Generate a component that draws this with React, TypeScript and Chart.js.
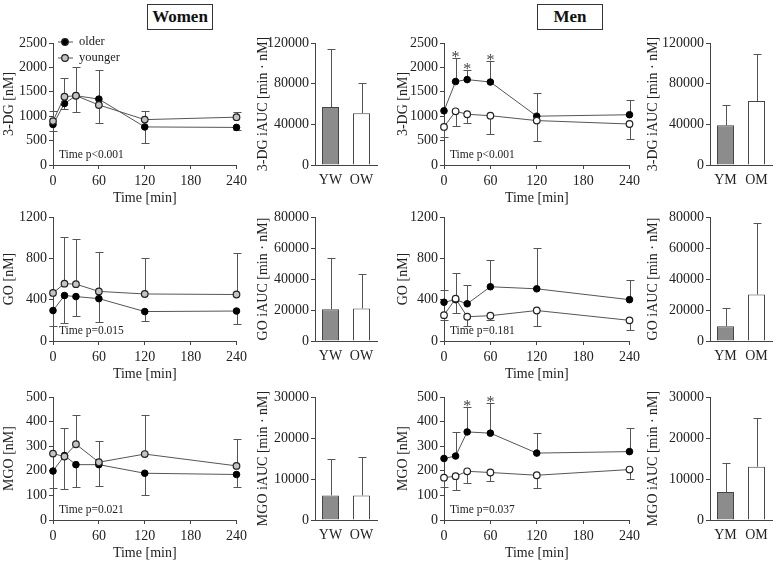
import React, { useEffect, useRef } from 'react';
import { Chart, registerables } from 'chart.js';
Chart.register(...registerables);

const FONT = '"Liberation Serif", "DejaVu Serif", serif';
const INK = '#222';
const AXIS = '#444';
const ERR = '#555';
const LINE = '#555';

// ---------- data ----------
const times = [0, 15, 30, 60, 120, 240];
const timeTicks = [0, 60, 120, 180, 240];

// Women
const wDG_older = [830, 1260, 1420, 1350, 780, 770];
const wDG_olderErr = [-140, -110, -340, 590, -330, -50];
const wDG_younger = [900, 1400, 1420, 1230, 930, 980];
const wDG_youngerErr = [200, 390, 590, -370, 170, 100];

const wGO_older = [295, 440, 430, 410, 285, 290];
const wGO_olderErr = [-150, -265, -190, -230, -95, -130];
const wGO_younger = [465, 555, 550, 480, 455, 450];
const wGO_youngerErr = [0, 455, 435, 385, 350, 405];

const wMGO_older = [199, 262, 225, 225, 190, 185];
const wMGO_olderErr = [-70, -137, -90, -85, -90, -50];
const wMGO_younger = [270, 258, 308, 235, 268, 220];
const wMGO_youngerErr = [0, 117, 117, 85, 160, 110];

// Men
const mDG_older = [1110, 1710, 1750, 1700, 1000, 1030];
const mDG_olderErr = [0, 480, 190, 440, 470, 310];
const mDG_younger = [780, 1100, 1040, 1010, 910, 840];
const mDG_youngerErr = [-210, -310, -170, -370, -410, -300];
const mDG_sig = [false, true, true, true, false, false];

const mGO_older = [375, 400, 360, 525, 505, 400];
const mGO_olderErr = [120, 255, 180, 255, 395, 195];
const mGO_younger = [250, 410, 235, 245, 295, 200];
const mGO_youngerErr = [-50, -140, -90, -40, -150, -95];

const mMGO_older = [250, 260, 358, 353, 272, 278];
const mMGO_olderErr = [0, 98, 102, 122, 80, 97];
const mMGO_younger = [172, 178, 198, 193, 182, 205];
const mMGO_youngerErr = [-37, -58, -48, -35, -52, -37];
const mMGO_sig = [false, false, true, true, false, false];

// iAUC bars
const womenLabels = ['YW', 'OW'];
const menLabels = ['YM', 'OM'];
const wDG_auc = [57000, 51000];
const wDG_aucErr = [57000, 30000];
const mDG_auc = [39000, 63000];
const mDG_aucErr = [20000, 46000];
const wGO_auc = [20500, 21000];
const wGO_aucErr = [33000, 22000];
const mGO_auc = [9500, 30000];
const mGO_aucErr = [12000, 46000];
const wMGO_auc = [6000, 6000];
const wMGO_aucErr = [9000, 9300];
const mMGO_auc = [6800, 13000];
const mMGO_aucErr = [7000, 12000];

// ---------- layout ----------
const ROWS = [
  { t: 43, b: 165 },
  { t: 217, b: 341 },
  { t: 397, b: 520 },
];
const PADT = 14;
const XH = 46;

const tickFont = { family: FONT, size: 14 };
const titleFont = { family: FONT, size: 14 };

const errorBarPlugin = {
  id: 'errbars',
  beforeDatasetsDraw(chart: any) {
    const ctx = chart.ctx;
    const ys = chart.scales.y;
    chart.data.datasets.forEach((ds: any, di: number) => {
      const errs = ds.errors;
      if (!errs) return;
      const meta = chart.getDatasetMeta(di);
      meta.data.forEach((el: any, i: number) => {
        const e = errs[i];
        if (!e) return;
        const raw = ds.data[i];
        const v = typeof raw === 'number' ? raw : raw.y;
        const x = Math.round(el.x) + 0.5;
        const y0 = ys.getPixelForValue(v);
        const y1 = Math.round(ys.getPixelForValue(v + e)) + 0.5;
        ctx.save();
        ctx.strokeStyle = ERR;
        ctx.lineWidth = 1;
        ctx.beginPath();
        ctx.moveTo(x, y0);
        ctx.lineTo(x, y1);
        ctx.moveTo(x - 4, y1);
        ctx.lineTo(x + 4, y1);
        ctx.stroke();
        ctx.restore();
      });
    });
  },
};

const notesPlugin = {
  id: 'notes',
  afterDatasetsDraw(chart: any, _args: any, opts: any) {
    const ctx = chart.ctx;
    const area = chart.chartArea;
    ctx.save();
    if (opts.pText) {
      ctx.fillStyle = INK;
      ctx.font = `11.5px ${FONT}`;
      ctx.textAlign = 'left';
      ctx.textBaseline = 'middle';
      ctx.fillText(opts.pText, area.left + 6, area.bottom - 10);
    }
    if (opts.sig) {
      const ds = chart.data.datasets[1];
      const meta = chart.getDatasetMeta(1);
      ctx.fillStyle = '#444';
      ctx.font = `16px ${FONT}`;
      ctx.textAlign = 'center';
      ctx.textBaseline = 'alphabetic';
      opts.sig.forEach((s: boolean, i: number) => {
        if (!s) return;
        const v = ds.data[i].y + (ds.errors[i] > 0 ? ds.errors[i] : 0);
        const y = chart.scales.y.getPixelForValue(v);
        ctx.fillText('*', meta.data[i].x, y + 4);
      });
    }
    if (opts.legend) {
      const items = [
        { text: 'older', fill: '#000', dy: -1 },
        { text: 'younger', fill: opts.youngerFill, dy: 15 },
      ];
      items.forEach((it) => {
        const y = area.top + it.dy;
        ctx.strokeStyle = LINE;
        ctx.lineWidth = 1;
        ctx.beginPath();
        ctx.moveTo(area.left + 5, y);
        ctx.lineTo(area.left + 20, y);
        ctx.stroke();
        ctx.beginPath();
        ctx.arc(area.left + 12, y, 3.3, 0, Math.PI * 2);
        ctx.fillStyle = it.fill;
        ctx.fill();
        ctx.strokeStyle = '#222';
        ctx.lineWidth = 1.2;
        ctx.stroke();
        ctx.fillStyle = INK;
        ctx.font = `12.5px ${FONT}`;
        ctx.textAlign = 'left';
        ctx.textBaseline = 'middle';
        ctx.fillText(it.text, area.left + 26, y);
      });
    }
    ctx.restore();
  },
};

const plainTick = (v: any) => String(v);

function yAxis(max: number, step: number, title: string, width: number) {
  return {
    min: 0,
    max,
    ticks: { stepSize: step, font: tickFont, color: INK, padding: 2, callback: plainTick },
    grid: { drawOnChartArea: false, drawTicks: true, tickLength: 4, color: AXIS },
    border: { color: AXIS, width: 1 },
    title: { display: true, text: title, font: titleFont, color: INK, padding: { top: 1, bottom: 0 } },
    afterFit: (s: any) => {
      s.width = width;
    },
  };
}

type LineSpec = {
  kind: 'line';
  canvasLeft: number;
  l: number;
  r: number;
  row: number;
  yMax: number;
  yStep: number;
  yTitle: string;
  older: number[];
  olderErr: number[];
  younger: number[];
  youngerErr: number[];
  youngerFill: string;
  pText: string;
  sig?: boolean[];
  legend?: boolean;
};

type BarSpec = {
  kind: 'bar';
  canvasLeft: number;
  l: number;
  r: number;
  row: number;
  yMax: number;
  yStep: number;
  yTitle: string;
  labels: string[];
  values: number[];
  errors: number[];
};

const PANELS: (LineSpec | BarSpec)[] = [
  { kind: 'line', canvasLeft: 0, l: 53, r: 237, row: 0, yMax: 2500, yStep: 500, yTitle: '3-DG [nM]', older: wDG_older, olderErr: wDG_olderErr, younger: wDG_younger, youngerErr: wDG_youngerErr, youngerFill: '#c4c4c4', pText: 'Time p<0.001', legend: true },
  { kind: 'bar', canvasLeft: 254, l: 315, r: 377, row: 0, yMax: 120000, yStep: 40000, yTitle: '3-DG iAUC [min · nM]', labels: womenLabels, values: wDG_auc, errors: wDG_aucErr },
  { kind: 'line', canvasLeft: 394, l: 444, r: 630, row: 0, yMax: 2500, yStep: 500, yTitle: '3-DG [nM]', older: mDG_older, olderErr: mDG_olderErr, younger: mDG_younger, youngerErr: mDG_youngerErr, youngerFill: '#ffffff', pText: 'Time p<0.001', sig: mDG_sig },
  { kind: 'bar', canvasLeft: 644, l: 710, r: 772, row: 0, yMax: 120000, yStep: 40000, yTitle: '3-DG iAUC [min · nM]', labels: menLabels, values: mDG_auc, errors: mDG_aucErr },

  { kind: 'line', canvasLeft: 0, l: 53, r: 237, row: 1, yMax: 1200, yStep: 400, yTitle: 'GO [nM]', older: wGO_older, olderErr: wGO_olderErr, younger: wGO_younger, youngerErr: wGO_youngerErr, youngerFill: '#c4c4c4', pText: 'Time p=0.015' },
  { kind: 'bar', canvasLeft: 254, l: 315, r: 377, row: 1, yMax: 80000, yStep: 20000, yTitle: 'GO iAUC [min · nM]', labels: womenLabels, values: wGO_auc, errors: wGO_aucErr },
  { kind: 'line', canvasLeft: 394, l: 444, r: 630, row: 1, yMax: 1200, yStep: 400, yTitle: 'GO [nM]', older: mGO_older, olderErr: mGO_olderErr, younger: mGO_younger, youngerErr: mGO_youngerErr, youngerFill: '#ffffff', pText: 'Time p=0.181' },
  { kind: 'bar', canvasLeft: 644, l: 710, r: 772, row: 1, yMax: 80000, yStep: 20000, yTitle: 'GO iAUC [min · nM]', labels: menLabels, values: mGO_auc, errors: mGO_aucErr },

  { kind: 'line', canvasLeft: 0, l: 53, r: 237, row: 2, yMax: 500, yStep: 100, yTitle: 'MGO [nM]', older: wMGO_older, olderErr: wMGO_olderErr, younger: wMGO_younger, youngerErr: wMGO_youngerErr, youngerFill: '#c4c4c4', pText: 'Time p=0.021' },
  { kind: 'bar', canvasLeft: 254, l: 315, r: 377, row: 2, yMax: 30000, yStep: 10000, yTitle: 'MGO iAUC [min · nM]', labels: womenLabels, values: wMGO_auc, errors: wMGO_aucErr },
  { kind: 'line', canvasLeft: 394, l: 444, r: 630, row: 2, yMax: 500, yStep: 100, yTitle: 'MGO [nM]', older: mMGO_older, olderErr: mMGO_olderErr, younger: mMGO_younger, youngerErr: mMGO_youngerErr, youngerFill: '#ffffff', pText: 'Time p=0.037', sig: mMGO_sig },
  { kind: 'bar', canvasLeft: 644, l: 710, r: 772, row: 2, yMax: 30000, yStep: 10000, yTitle: 'MGO iAUC [min · nM]', labels: menLabels, values: mMGO_auc, errors: mMGO_aucErr },
];

function panelRect(p: LineSpec | BarSpec) {
  const row = ROWS[p.row];
  const padR = p.kind === 'line' ? 14 : 6;
  return {
    x: p.canvasLeft,
    y: row.t - PADT,
    w: p.r - p.canvasLeft + padR,
    h: row.b - row.t + PADT + XH,
    padR,
  };
}

function buildConfig(p: LineSpec | BarSpec): any {
  const rect = panelRect(p);
  const yW = p.l - p.canvasLeft;
  const base = {
    responsive: false,
    animation: false,
    events: [],
    layout: { padding: { left: 0, top: PADT, right: rect.padR, bottom: 0 } },
  };
  if (p.kind === 'line') {
    const pts = (arr: number[]) => times.map((t, i) => ({ x: t, y: arr[i] }));
    return {
      type: 'line',
      data: {
        datasets: [
          {
            label: 'younger',
            data: pts(p.younger),
            errors: p.youngerErr,
            borderColor: LINE,
            borderWidth: 1,
            pointRadius: 3.3,
            pointBackgroundColor: p.youngerFill,
            pointBorderColor: '#222',
            pointBorderWidth: 1.2,
            tension: 0,
            clip: false,
          },
          {
            label: 'older',
            data: pts(p.older),
            errors: p.olderErr,
            borderColor: LINE,
            borderWidth: 1,
            pointRadius: 3.3,
            pointBackgroundColor: '#000',
            pointBorderColor: '#000',
            pointBorderWidth: 1,
            tension: 0,
            clip: false,
          },
        ],
      },
      options: {
        ...base,
        plugins: {
          legend: { display: false },
          tooltip: { enabled: false },
          notes: { pText: p.pText, sig: p.sig, legend: p.legend, youngerFill: p.youngerFill },
        },
        scales: {
          x: {
            type: 'linear',
            min: 0,
            max: 240,
            afterBuildTicks: (s: any) => {
              s.ticks = timeTicks.map((v) => ({ value: v }));
            },
            ticks: { font: tickFont, color: INK, padding: 4, maxRotation: 0, autoSkip: false, callback: plainTick },
            grid: { drawOnChartArea: false, drawTicks: true, tickLength: 4, color: AXIS },
            border: { color: AXIS, width: 1 },
            title: { display: true, text: 'Time [min]', font: titleFont, color: INK, padding: { top: 0, bottom: 4 } },
            afterFit: (s: any) => {
              s.height = XH;
            },
          },
          y: yAxis(p.yMax, p.yStep, p.yTitle, yW),
        },
      },
      plugins: [errorBarPlugin, notesPlugin],
    };
  }
  return {
    type: 'bar',
    data: {
      labels: p.labels,
      datasets: [
        {
          data: p.values,
          errors: p.errors,
          backgroundColor: ['#8c8c8c', '#ffffff'],
          borderColor: '#444',
          borderWidth: 1,
          barPercentage: 0.55,
          categoryPercentage: 1,
        },
      ],
    },
    options: {
      ...base,
      plugins: { legend: { display: false }, tooltip: { enabled: false }, notes: {} },
      scales: {
        x: {
          grid: { drawOnChartArea: false, drawTicks: false },
          border: { color: AXIS, width: 1 },
          ticks: { font: tickFont, color: INK, padding: 7 },
          afterFit: (s: any) => {
            s.height = XH;
          },
        },
        y: yAxis(p.yMax, p.yStep, p.yTitle, yW),
      },
    },
    plugins: [errorBarPlugin, notesPlugin],
  };
}

function ChartBox({ spec }: { spec: LineSpec | BarSpec }) {
  const ref = useRef<HTMLCanvasElement>(null);
  const rect = panelRect(spec);
  useEffect(() => {
    const chart = new Chart(ref.current as HTMLCanvasElement, buildConfig(spec));
    return () => chart.destroy();
  }, [spec]);
  return (
    <canvas
      ref={ref}
      width={rect.w}
      height={rect.h}
      style={{ position: 'absolute', left: rect.x, top: rect.y, width: rect.w, height: rect.h }}
    />
  );
}

function GroupTitle({ text, left }: { text: string; left: number }) {
  return (
    <div
      style={{
        position: 'absolute',
        left,
        top: 4,
        width: 66,
        height: 26,
        boxSizing: 'border-box',
        border: '1px solid #333',
        display: 'flex',
        alignItems: 'center',
        justifyContent: 'center',
        fontFamily: FONT,
        fontWeight: 'bold',
        fontSize: 17,
        color: '#111',
      }}
    >
      {text}
    </div>
  );
}

export default function App() {
  return (
    <div
      style={{
        position: 'fixed',
        left: 0,
        top: 0,
        width: 776,
        height: 564,
        background: '#fff',
        overflow: 'hidden',
      }}
    >
      <GroupTitle text="Women" left={147} />
      <GroupTitle text="Men" left={537} />
      {PANELS.map((p, i) => (
        <ChartBox key={i} spec={p} />
      ))}
    </div>
  );
}
